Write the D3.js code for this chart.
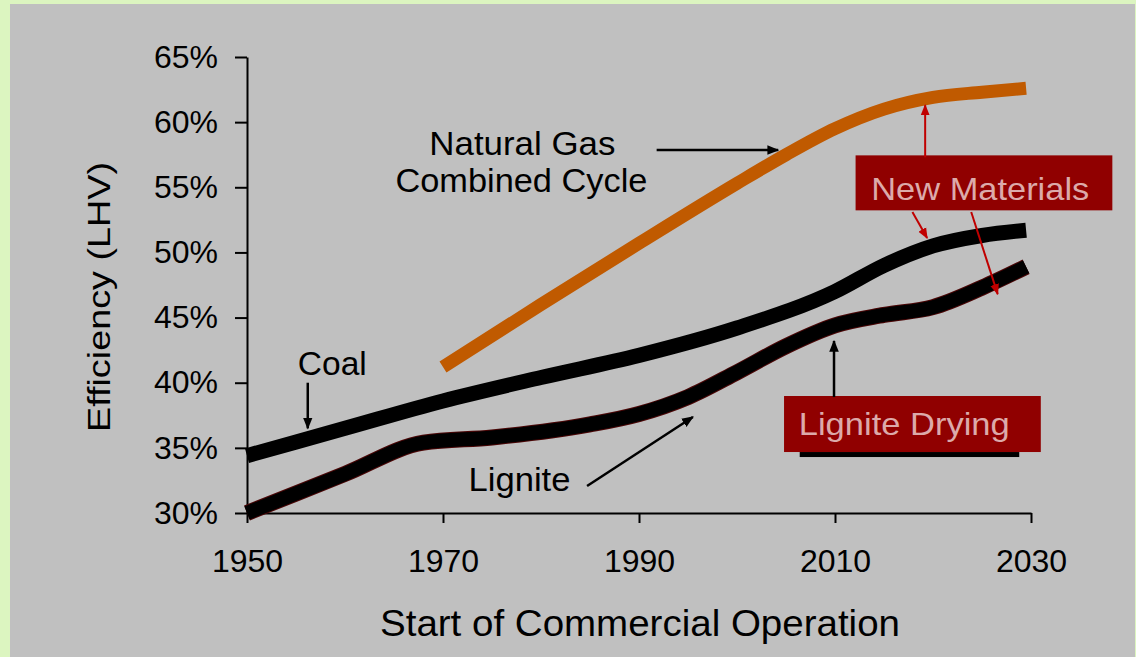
<!DOCTYPE html>
<html lang="en">
<head>
<meta charset="UTF-8">
<title>Efficiency by start of commercial operation</title>
<script src="https://cdn.jsdelivr.net/npm/d3@7"></script>
<style>
body { margin: 0; background: #dcf5c0; }
svg { display: block; }
text { font-family: "Liberation Sans", Arial, sans-serif; fill: #000; }
.axis path, .axis line { stroke: #000; stroke-width: 2px; }
.axis text { font-size: 32px; }
.note { font-size: 33px; }
.box-label { font-size: 32px; fill: #dcaaaa; }
</style>
</head>
<body>
<div id="chart"></div>
<script>
// values in % (LHV), years on x
const coalYears = [1950, 1960, 1970, 1980, 1990, 2000, 2010, 2015, 2020, 2025, 2029.5];
const coalEff   = [34.4, 36.5, 38.6, 40.4, 42.1, 44.2, 47.0, 49.0, 50.5, 51.3, 51.7];

const ligniteYears = [1950, 1960, 1968, 1975, 1985, 1990, 1995, 2000, 2005, 2010, 2015, 2020, 2025, 2029.5];
const ligniteEff   = [30.0, 33.0, 35.4, 35.8, 36.8, 37.6, 38.9, 40.8, 42.8, 44.4, 45.2, 45.8, 47.3, 48.9];

const gasYears = [1970, 1980, 1990, 2000, 2005, 2010, 2015, 2020, 2025, 2029.5];
const gasEff   = [41.2, 46.0, 50.7, 55.3, 57.5, 59.5, 61.0, 61.9, 62.3, 62.6];

const xTicks = [1950, 1970, 1990, 2010, 2030];
const yTicks = [30, 35, 40, 45, 50, 55, 60, 65];

// annotations, placed in data units
const notes = [
    {text: "Natural Gas", x: 1978.1, y: 57.5, len: 186},
    {text: "Combined Cycle", x: 1978.0, y: 54.6, len: 252},
    {text: "Coal", x: 1958.7, y: 40.6, len: 69},
    {text: "Lignite", x: 1977.8, y: 31.7, len: 102}
];
const blackArrows = [
    {x1: 1991.8, y1: 57.86, x2: 2004.2, y2: 57.86},
    {x1: 1956.2, y1: 40.0, x2: 1956.2, y2: 36.5},
    {x1: 1984.7, y1: 32.07, x2: 1995.5, y2: 37.37},
    {x1: 2009.9, y1: 38.9, x2: 2009.9, y2: 43.2}
];
const redArrows = [
    {x1: 2019.2, y1: 57.3, x2: 2019.2, y2: 61.3},
    {x1: 2017.9, y1: 53.1, x2: 2019.4, y2: 51.1},
    {x1: 2023.9, y1: 53.1, x2: 2026.6, y2: 46.8}
];
const boxes = [
    {text: "New Materials", x0: 2012.1, x1: 2038.3, y0: 57.45, y1: 53.23, tx: 2013.7, ty: 54.05, len: 218},
    {text: "Lignite Drying", x0: 2004.8, x1: 2031.0, y0: 38.98, y1: 34.68, tx: 2006.3, ty: 36.0, len: 211}
];

const W = 1136, H = 657;
const x = d3.scaleLinear().domain([1950, 2030]).range([247, 1031]);
const y = d3.scaleLinear().domain([30, 65]).range([513, 57]);

const svg = d3.select("#chart").append("svg")
    .attr("width", W)
    .attr("height", H);

svg.append("rect")
    .attr("x", 10).attr("y", 4)
    .attr("width", 1125).attr("height", H - 4)
    .attr("fill", "#c0c0c0");

const defs = svg.append("defs");
function marker(id, color, size) {
    defs.append("marker")
        .attr("id", id)
        .attr("viewBox", "0 0 10 10")
        .attr("refX", 9).attr("refY", 5)
        .attr("markerWidth", size).attr("markerHeight", size)
        .attr("markerUnits", "userSpaceOnUse")
        .attr("orient", "auto")
      .append("path")
        .attr("d", "M0,1 L10,5 L0,9 Z")
        .attr("fill", color);
}
marker("headBlack", "#000", 12);
marker("headRed", "#c00000", 11);

// axes
svg.append("g")
    .attr("class", "axis")
    .attr("transform", `translate(${x(1950)},0)`)
    .call(d3.axisLeft(y).tickValues(yTicks).tickSize(12).tickSizeOuter(0).tickPadding(17)
        .tickFormat(d => d + "%"));

svg.append("g")
    .attr("class", "axis")
    .attr("transform", `translate(0,${y(30)})`)
    .call(d3.axisBottom(x).tickValues(xTicks).tickSize(10).tickSizeOuter(0).tickPadding(26)
        .tickFormat(d3.format("d")));

svg.selectAll(".axis .domain").attr("fill", "none");

svg.append("text")
    .attr("transform", `translate(110,297) rotate(-90)`)
    .attr("text-anchor", "middle")
    .attr("font-size", 32)
    .attr("textLength", 270)
    .attr("lengthAdjust", "spacingAndGlyphs")
    .text("Efficiency (LHV)");

svg.append("text")
    .attr("x", 640).attr("y", 636)
    .attr("text-anchor", "middle")
    .attr("font-size", 37)
    .attr("textLength", 520)
    .attr("lengthAdjust", "spacingAndGlyphs")
    .text("Start of Commercial Operation");

// series
const line = d3.line()
    .x(d => x(d[0]))
    .y(d => y(d[1]))
    .curve(d3.curveMonotoneX);

const zip = (a, b) => a.map((v, i) => [v, b[i]]);

svg.append("path")
    .attr("d", line(zip(ligniteYears, ligniteEff)))
    .attr("fill", "none").attr("stroke", "#4a0606").attr("stroke-width", 16);
svg.append("path")
    .attr("d", line(zip(ligniteYears, ligniteEff)))
    .attr("fill", "none").attr("stroke", "#000").attr("stroke-width", 14);
svg.append("path")
    .attr("d", line(zip(coalYears, coalEff)))
    .attr("fill", "none").attr("stroke", "#000").attr("stroke-width", 15);
svg.append("path")
    .attr("d", line(zip(gasYears, gasEff)))
    .attr("fill", "none").attr("stroke", "#c05a00").attr("stroke-width", 13);

// text notes
svg.selectAll("text.note")
    .data(notes)
    .join("text")
    .attr("class", "note")
    .attr("x", d => x(d.x)).attr("y", d => y(d.y))
    .attr("text-anchor", "middle")
    .attr("textLength", d => d.len)
    .attr("lengthAdjust", "spacingAndGlyphs")
    .text(d => d.text);

// red boxes (with a dark shadow under the lower one)
svg.append("rect")
    .attr("x", x(2006.4)).attr("y", y(34.68))
    .attr("width", x(2028.8) - x(2006.4)).attr("height", 5)
    .attr("fill", "#000");

svg.selectAll("rect.box")
    .data(boxes)
    .join("rect")
    .attr("class", "box")
    .attr("x", d => x(d.x0)).attr("y", d => y(d.y0))
    .attr("width", d => x(d.x1) - x(d.x0))
    .attr("height", d => y(d.y1) - y(d.y0))
    .attr("fill", "#900000");

svg.selectAll("text.box-label")
    .data(boxes)
    .join("text")
    .attr("class", "box-label")
    .attr("x", d => x(d.tx)).attr("y", d => y(d.ty))
    .attr("textLength", d => d.len)
    .attr("lengthAdjust", "spacingAndGlyphs")
    .text(d => d.text);

// arrows
svg.selectAll("line.black-arrow")
    .data(blackArrows)
    .join("line")
    .attr("class", "black-arrow")
    .attr("x1", d => x(d.x1)).attr("y1", d => y(d.y1))
    .attr("x2", d => x(d.x2)).attr("y2", d => y(d.y2))
    .attr("stroke", "#000").attr("stroke-width", 2.5)
    .attr("marker-end", "url(#headBlack)");

svg.selectAll("line.red-arrow")
    .data(redArrows)
    .join("line")
    .attr("class", "red-arrow")
    .attr("x1", d => x(d.x1)).attr("y1", d => y(d.y1))
    .attr("x2", d => x(d.x2)).attr("y2", d => y(d.y2))
    .attr("stroke", "#c00000").attr("stroke-width", 2)
    .attr("marker-end", "url(#headRed)");
</script>
</body>
</html>
